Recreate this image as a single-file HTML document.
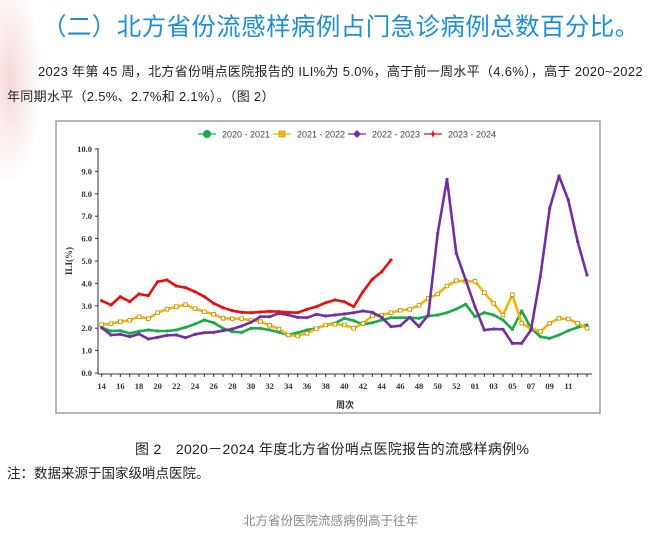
<!DOCTYPE html>
<html><head><meta charset="utf-8"><style>
body{margin:0;width:658px;height:533px;background:#fff;font-family:"Liberation Sans","Noto Sans CJK SC",sans-serif;position:relative;overflow:hidden}
.t{position:absolute;white-space:nowrap}
</style></head><body>
<div class="t" style="left:0;top:0;width:40px;height:180px;background:radial-gradient(ellipse at 10px 80px,#f6dada 0,#fbeeee 40%,rgba(255,255,255,0) 75%)"></div>
<div class="t" style="left:42px;top:8px;font-size:24.5px;color:#1f8ed8;letter-spacing:0.4px">（二）北方省份流感样病例占门急诊病例总数百分比。</div>
<div class="t" style="left:38px;top:61px;font-size:13px;color:#222;letter-spacing:0.3px">2023 年第 45 周，北方省份哨点医院报告的 ILI%为 5.0%，高于前一周水平（4.6%），高于 2020~2022</div>
<div class="t" style="left:7px;top:86px;font-size:13px;color:#222;letter-spacing:0.3px">年同期水平（2.5%、2.7%和 2.1%）。（图 2）</div>
<div class="t" style="left:135px;top:439px;font-size:14px;color:#222;letter-spacing:0.3px">图 2　2020－2024 年度北方省份哨点医院报告的流感样病例%</div>
<div class="t" style="left:7px;top:462px;font-size:13.5px;color:#222">注：数据来源于国家级哨点医院。</div>
<div class="t" style="left:243px;top:510px;font-size:12.5px;color:#888">北方省份医院流感病例高于往年</div>
<svg id="s" class="t" style="left:0;top:0" width="658" height="533" xmlns="http://www.w3.org/2000/svg"></svg>
<script>
var s=document.getElementById('s'),h='';
h+='<rect x="56" y="121" width="544" height="292" fill="none" stroke="#888" stroke-width="1.2"/>';
h+='<line x1="98" y1="148" x2="98" y2="374" stroke="#333"/><line x1="98" y1="374" x2="592" y2="374" stroke="#333"/>';
for(var k=0;k<=10;k++){var y=373-k*22.4;h+='<line x1="95" y1="'+y+'" x2="98" y2="'+y+'" stroke="#333"/><text x="92" y="'+(y+3)+'" font-size="8.5" font-weight="bold" font-family="Liberation Serif" text-anchor="end" fill="#333">'+k+'.0</text>';}
function X(i){return 90+(35+28*i)/3}
var labs=[];for(var w=14;w<=52;w+=2)labs.push([w-14,''+w]);['01','03','05','07','09','11'].forEach(function(l,j){labs.push([40+2*j,l])});
for(var i=0;i<53;i++){h+='<line x1="'+X(i)+'" y1="374" x2="'+X(i)+'" y2="377" stroke="#333"/>';}
labs.forEach(function(a){h+='<text x="'+X(a[0])+'" y="389" font-size="8.5" font-weight="bold" font-family="Liberation Serif" text-anchor="middle" fill="#333">'+a[1]+'</text>'});
h+='<text x="345" y="408" font-size="9" fill="#333" text-anchor="middle" font-weight="bold">周次</text>';
h+='<text transform="translate(72,261) rotate(-90)" font-size="9" font-weight="bold" font-family="Liberation Serif" text-anchor="middle" fill="#333">ILI(%)</text>';
var G=[623,633,632,640,634,630,633,633,630,622,612,600,608,625,635,637,625,625,630,637,645,638,630,625,615,610,595,602,613,608,600,593,593,593,595,588,585,578,567,553,590,578,585,600,628,573,625,650,655,645,632,622,615];
var Y=[614,611,605,601,590,596,578,568,560,554,566,575,583,595,596,596,601,605,616,627,645,648,640,626,615,613,615,625,610,588,585,578,571,568,556,535,522,498,482,484,484,518,550,585,524,610,625,635,610,595,597,610,625];
var P=[623,645,643,650,642,657,652,646,645,653,643,638,637,632,627,618,607,590,590,580,585,592,593,583,588,585,582,578,573,577,592,620,617,592,620,585,340,178,400,480,560,630,627,628,670,670,630,470,265,168,240,365,465];
var R=[542,555,530,545,522,527,485,480,498,503,515,530,550,563,572,577,578,576,574,575,577,578,568,560,548,540,545,560,515,478,455,420];
function line(d,c,m){var p=d.map(function(v,i){return X(i).toFixed(1)+','+(120+v/3).toFixed(1)}).join(' ');
h+='<polyline points="'+p+'" fill="none" stroke="'+c+'" stroke-width="2.6" stroke-linejoin="round"/>';
d.forEach(function(v,i){var x=X(i),y=120+v/3;
if(m=='s')h+='<rect x="'+(x-1.8)+'" y="'+(y-1.8)+'" width="3.6" height="3.6" fill="#fff" stroke="#b58a00" stroke-width="0.8"/>';
else h+='<circle cx="'+x+'" cy="'+y+'" r="1.6" fill="'+c+'"/>';});}
line(G,'#1aa94a');line(Y,'#f3b700','s');line(P,'#7030a0');line(R,'#e31010');
function leg(x,c,t,m){h+='<line x1="'+x+'" y1="134" x2="'+(x+18)+'" y2="134" stroke="'+c+'" stroke-width="1.3"/>';
if(m=='s')h+='<rect x="'+(x+6)+'" y="131" width="6" height="6" fill="'+c+'" stroke="#b58a00" stroke-width="0.6"/>';
else if(m=='d')h+='<path d="M'+(x+9)+' 130 l4 4 -4 4 -4 -4z" fill="'+c+'"/>';
else if(m=='c')h+='<circle cx="'+(x+9)+'" cy="134" r="4" fill="'+c+'"/>';
else h+='<path d="M'+(x+9)+' 130 l1.5 4 -1.5 4 -1.5 -4z M'+(x+5)+' 134 l4 -1.2 4 1.2 -4 1.2z" fill="'+c+'"/>';
h+='<text x="'+(x+24)+'" y="137.5" font-size="9" fill="#444">'+t+'</text>';}
leg(198,'#1aa94a','2020 - 2021','c');leg(273,'#f3b700','2021 - 2022','s');leg(348,'#7030a0','2022 - 2023','d');leg(424,'#e31010','2023 - 2024','x');
s.innerHTML=h;
</script>
</body></html>
